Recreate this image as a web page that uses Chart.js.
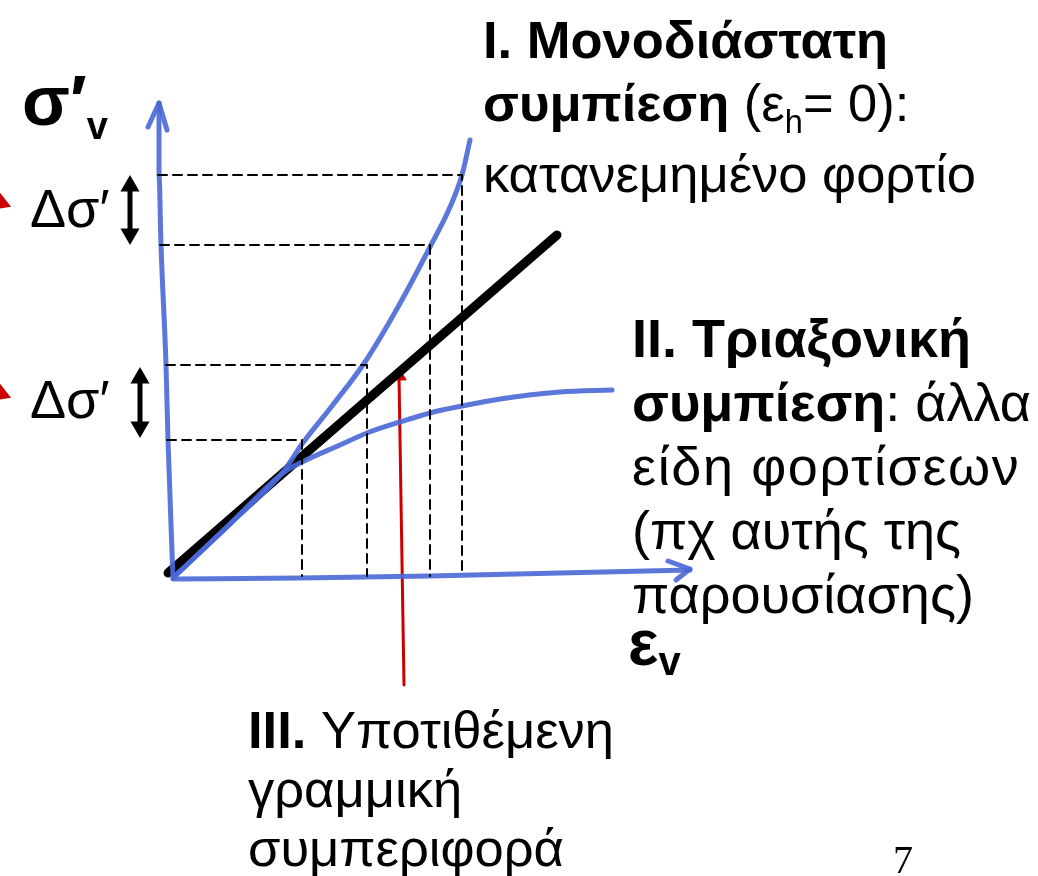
<!DOCTYPE html>
<html>
<head>
<meta charset="utf-8">
<title>σ′v – εv</title>
<script src="https://cdn.jsdelivr.net/npm/chart.js@4/dist/chart.umd.min.js"></script>
<style>
  body { margin: 0; background: #fff; }
  #wrap {
    position: relative; width: 1038px; height: 876px; overflow: hidden;
    font-family: "Liberation Sans", Arial, sans-serif; color: #000;
  }
  #plot { position: absolute; left: 0; top: 0; }
  .txt { position: absolute; white-space: nowrap; font-size: 52.5px; }
  .sub { position: relative; font-size: 0.62em; }
</style>
</head>
<body>
<div id="wrap">
  <canvas id="plot" width="1038" height="876"></canvas>

  <div class="txt" style="left:22px; top:66px; font-size:70px; line-height:70px; font-weight:bold;">σ′<span class="sub" style="top:14px; font-size:38px;">v</span></div>
  <div class="txt" style="left:30px; top:181px; font-size:54px; line-height:54px;">Δσ′</div>
  <div class="txt" style="left:30px; top:372px; font-size:54px; line-height:54px;">Δσ′</div>

  <div class="txt" style="left:483px; top:8px; line-height:63px;">
    <b>I. Μονοδιάστατη</b><br>
    <b>συμπίεση</b> (ε<span class="sub" style="top:12px;">h</span>= 0):<br>
    κατανεμημένο φορτίο
  </div>

  <div class="txt" style="left:632px; top:306px; font-size:54px; line-height:64px;">
    <b>II. Τριαξονική</b><br>
    <b>συμπίεση</b>: άλλα<br>
    <span style="letter-spacing:1.6px;">είδη φορτίσεων</span><br>
    (πχ αυτής της<br>
    παρουσίασης)
  </div>

  <div class="txt" style="left:628px; top:611px; font-size:64px; line-height:64px; font-weight:bold;">ε<span class="sub" style="top:10px; font-size:40px;">v</span></div>

  <div class="txt" style="left:248px; top:700px; line-height:59px;">
    <b>III.</b> Υποτιθέμενη<br>
    γραμμική<br>
    συμπεριφορά
  </div>

  <div class="txt" style="left:893px; top:840px; font-size:40px; line-height:40px; font-family:'Liberation Serif', serif;">7</div>
</div>

<script>
// axes (hand drawn, slightly tilted), strain εv across, stress σ'v up
const yAxisX = [0.01, -0.04, -0.06, -0.11, -0.13, -0.13];
const yAxisY = [0.00, 1.38, 2.13, 3.33, 4.03, 4.75];
const yHeadX = [-0.24, -0.13, -0.05];
const yHeadY = [4.51, 4.75, 4.48];
const xAxisX = [0.01, 1.28, 2.58, 3.88, 5.18];
const xAxisY = [-0.01, 0.00, 0.02, 0.05, 0.08];
const xHeadX = [4.96, 5.18, 5.04];
const xHeadY = [0.17, 0.09, -0.02];

// I. uniaxial (oedometer) curve
const oedStrain = [0.03, 0.58, 1.11, 1.30, 1.60, 1.93, 2.26, 2.58, 2.78, 2.90, 2.98];
const oedStress = [0.02, 0.54, 1.06, 1.34, 1.72, 2.16, 2.71, 3.31, 3.71, 4.03, 4.38];

// II. triaxial curve
const triStrain = [0.03, 0.58, 1.11, 1.30, 1.68, 1.95, 2.28, 2.58, 2.90, 3.28, 3.88, 4.40];
const triStress = [0.02, 0.54, 1.05, 1.16, 1.33, 1.45, 1.56, 1.65, 1.72, 1.79, 1.86, 1.88];

// III. assumed linear behaviour
const linStrain = [-0.04, 3.85];
const linStress = [0.05, 3.43];

// dashed read-off lines: equal strain steps on curve I
const guideStrain = [1.30, 1.95, 2.58, 2.90];
const guideStress = [1.38, 2.13, 3.33, 4.03];
const guideStart = [-0.05, -0.06, -0.12, -0.14];

// red pointer to the straight line
const pointerX = [2.32, 2.27];
const pointerY = [-1.07, 2.02];

// Δσ' double arrows
const dArrowX = [-0.42, -0.32];
const dArrowTop = [3.92, 2.00];
const dArrowBot = [3.44, 1.51];

// red arrow tips coming in from the left edge
const edgeTipX = [-1.73, -1.73];
const edgeTipY = [3.76, 1.85];

const pts = (xs, ys) => xs.map((x, i) => ({ x: x, y: ys[i] }));

const guides = [];
guideStrain.forEach((x, i) => {
  guides.push({ x: guideStart[i], y: guideStress[i] });
  guides.push({ x: x, y: guideStress[i] });
  guides.push({ x: x, y: 0.02 });
  guides.push({ x: null, y: null });
});

const blue = "rgba(74, 104, 214, 0.9)";

const datasets = [
  { data: guides, borderColor: "#000", borderWidth: 2, borderDash: [9, 6], spanGaps: false },
  { data: pts(yAxisX, yAxisY), borderColor: blue, borderWidth: 5, cubicInterpolationMode: "monotone" },
  { data: pts(yHeadX, yHeadY), borderColor: blue, borderWidth: 5 },
  { data: pts(xAxisX, xAxisY), borderColor: blue, borderWidth: 5, cubicInterpolationMode: "monotone" },
  { data: pts(xHeadX, xHeadY), borderColor: blue, borderWidth: 5 },
  { data: pts(oedStrain, oedStress), borderColor: blue, borderWidth: 5, cubicInterpolationMode: "monotone" },
  { data: pts(triStrain, triStress), borderColor: blue, borderWidth: 5, cubicInterpolationMode: "monotone" },
  { data: pts(linStrain, linStress), borderColor: "#000", borderWidth: 9 },
  {
    data: pts(pointerX, pointerY), borderColor: "#cc0000", borderWidth: 3,
    pointRadius: [0, 9], pointStyle: "triangle", pointRotation: -1,
    pointBackgroundColor: "#cc0000", pointBorderWidth: 0
  }
];

dArrowX.forEach((x, i) => {
  datasets.push({
    data: [{ x: x, y: dArrowTop[i] }, { x: x, y: dArrowBot[i] }],
    borderColor: "#000", borderWidth: 5,
    pointRadius: 11, pointStyle: "triangle", pointRotation: [0, 180],
    pointBackgroundColor: "#000", pointBorderWidth: 0
  });
});

edgeTipX.forEach((x, i) => {
  datasets.push({
    data: [{ x: x, y: edgeTipY[i] }], showLine: false, clip: false,
    pointRadius: 13, pointStyle: "triangle", pointRotation: 112,
    pointBackgroundColor: "#cc0000", pointBorderWidth: 0
  });
});

new Chart(document.getElementById("plot"), {
  type: "scatter",
  data: { datasets: datasets.map(d => Object.assign({ showLine: true, pointRadius: 0, fill: false }, d)) },
  options: {
    responsive: false,
    animation: false,
    devicePixelRatio: 1,
    layout: { padding: 0, autoPadding: false },
    plugins: { legend: { display: false }, tooltip: { enabled: false } },
    elements: { line: { borderCapStyle: "round", borderJoinStyle: "round" } },
    scales: {
      x: { type: "linear", min: -1.72, max: 8.66, display: false },
      y: { type: "linear", min: -2.98, max: 5.78, display: false }
    }
  }
});
</script>
</body>
</html>
